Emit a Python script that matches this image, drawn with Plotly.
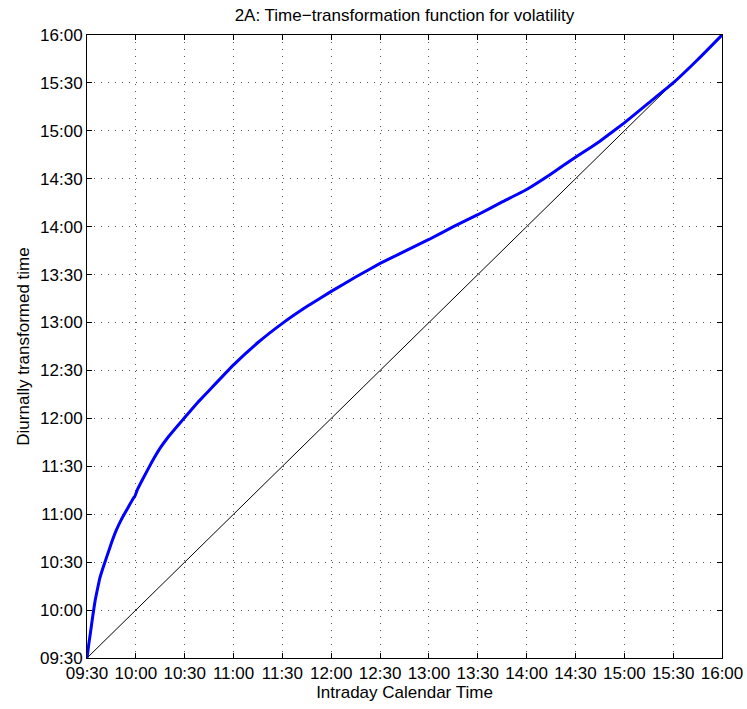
import plotly.graph_objects as go

# minutes after 09:30
tick_minutes = [0, 30, 60, 90, 120, 150, 180, 210, 240, 270, 300, 330, 360, 390]
tick_labels = ["09:30", "10:00", "10:30", "11:00", "11:30", "12:00", "12:30",
               "13:00", "13:30", "14:00", "14:30", "15:00", "15:30", "16:00"]

calendar_min = [0, 1, 2, 3.5, 5, 6.5, 8, 10, 12, 15, 18, 21, 24, 26.5, 28.5, 29.5, 31,
                35, 40, 45, 50, 57, 60, 68.5, 75, 90, 105, 120, 135, 150,
                165, 180, 195, 210, 225, 240, 255, 270, 285, 300, 310, 315, 330, 345,
                360, 375, 390]
transformed_min = [0, 8, 15, 26, 36, 43.5, 50.5, 57, 63, 72, 80, 86.5, 92, 96.5, 100,
                   101.5, 105.5, 113.5, 123, 131.5, 138.5, 147, 150.5, 160.5, 167.5,
                   183.5, 197.5, 209.5, 220, 229.5, 238.5, 247, 254.5, 262, 270,
                   277.5, 285.5, 293.3, 303, 313.5, 320, 323.5, 335, 347.5, 360, 374.5, 390]

diag = [0, 390]

FONT = "Liberation Sans, Arial, Helvetica, sans-serif"

fig = go.Figure()
fig.add_trace(go.Scatter(x=diag, y=diag, mode="lines",
                         line=dict(color="black", width=1), showlegend=False))
fig.add_trace(go.Scatter(x=calendar_min, y=transformed_min, mode="lines",
                         line=dict(color="#0000ff", width=3, shape="spline", smoothing=0.3),
                         showlegend=False))

axis_common = dict(
    range=[0, 390], tickmode="array", tickvals=tick_minutes, ticktext=tick_labels,
    showgrid=True, gridcolor="#555555", gridwidth=1, griddash="1px,6px",
    zeroline=False, showline=True, linecolor="black", linewidth=1, mirror="allticks",
    ticks="inside", ticklen=5, tickcolor="black", automargin=False,
    tickfont=dict(family=FONT, size=17, color="black"),
    title_font=dict(family=FONT, size=17, color="black"),
)

fig.update_xaxes(**axis_common, title_text="Intraday Calendar Time", title_standoff=2)
fig.update_yaxes(**axis_common, title_text="Diurnally transformed time", title_standoff=6)

fig.update_layout(
    width=747, height=709,
    margin=dict(l=87, r=25, t=35, b=51),
    paper_bgcolor="white", plot_bgcolor="white",
    title=dict(text="2A: Time\u2212transformation function for volatility",
               x=0.5, xref="paper", xanchor="center", y=1 - 15 / 709, yanchor="middle",
               font=dict(family=FONT, size=17, color="black")),
)

fig.write_html("out.html")
